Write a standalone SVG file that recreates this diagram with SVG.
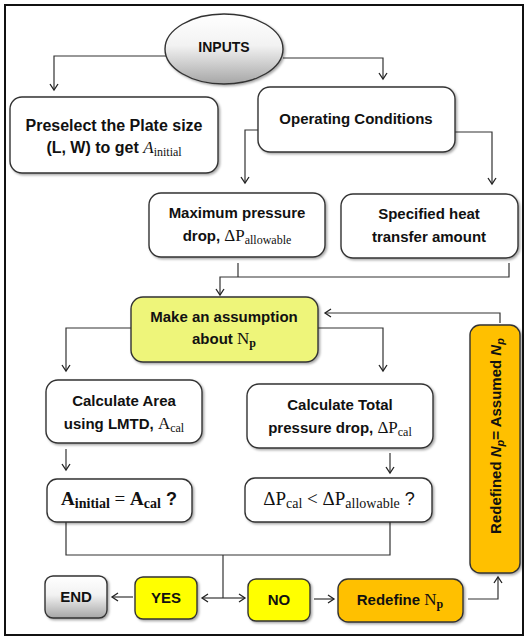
<svg xmlns="http://www.w3.org/2000/svg" width="525" height="637" viewBox="0 0 525 637">
<defs>
<linearGradient id="gGray" x1="0" y1="0" x2="0" y2="1">
<stop offset="0" stop-color="#ffffff"/>
<stop offset="0.45" stop-color="#f2f2f2"/>
<stop offset="1" stop-color="#a6a6a6"/>
</linearGradient>
<filter id="sh" x="-10%" y="-10%" width="130%" height="130%">
<feDropShadow dx="1.5" dy="1.5" stdDeviation="1.2" flood-color="#000" flood-opacity="0.35"/>
</filter>
<marker id="arr" markerWidth="10" markerHeight="10" refX="7" refY="5" orient="auto" markerUnits="userSpaceOnUse">
<path d="M1,1 L7,5 L1,9" fill="none" stroke="#222" stroke-width="1.3"/>
</marker>
<style>
.box{stroke:#333;stroke-width:1.4;filter:url(#sh)}
.w{fill:#fff}
.lime{fill:#eef57a}
.yel{fill:#ffff00}
.org{fill:#ffc000}
.c{fill:none;stroke:#333;stroke-width:1.2}
.a{marker-end:url(#arr)}
text{font-family:"Liberation Sans",Arial,sans-serif;font-weight:bold;font-size:15px;fill:#111;text-anchor:middle}
.s{font-family:"Liberation Serif","Times New Roman",serif;font-weight:normal;font-size:17px}
.sb{font-family:"Liberation Serif","Times New Roman",serif;font-weight:bold;font-size:17px}
.sub{font-family:"Liberation Serif","Times New Roman",serif;font-weight:normal;font-size:12px}
.subb{font-family:"Liberation Serif","Times New Roman",serif;font-weight:bold;font-size:12px}
.it{font-style:italic}
.big{font-size:19px}
.bsub{font-size:14px}
.q{font-size:18px}
.ps{font-size:16px}
.sm{font-size:14px}
.pi{font-size:11px}
</style>
</defs>
<rect x="5" y="5" width="518" height="630" fill="#fff" stroke="#111" stroke-width="2"/>

<g id="connectors">
<path class="c a" d="M166,56 H54 V90"/>
<path class="c a" d="M283,58 H383 V79"/>
<path class="c a" d="M258,130 H245 V183"/>
<path class="c a" d="M455,132 H492 V184"/>
<path class="c" d="M238,263 V277"/>
<path class="c a" d="M509,263 V277 H220 V295"/>
<path class="c a" d="M500,323 V313 H325"/>
<path class="c a" d="M131,328 H66 V371"/>
<path class="c a" d="M318,328 H383 V371"/>
<path class="c a" d="M66,449 V470"/>
<path class="c a" d="M390,453 V473"/>
<path class="c" d="M66,522 V555 H390 V522"/>
<path class="c" d="M223,555 V598"/>
<path class="c a" d="M223,598 H202"/>
<path class="c a" d="M223,598 H245"/>
<path class="c a" d="M133,597 H112"/>
<path class="c a" d="M314,599 H334"/>
<path class="c a" d="M468,599 H498 V577"/>
</g>

<g id="inputs">
<ellipse cx="224" cy="49" rx="59" ry="35" fill="url(#gGray)" class="box"/>
<text class="sm" x="224" y="52">INPUTS</text>
</g>

<g id="preselect">
<rect class="box w" x="10" y="97" width="208" height="76" rx="12"/>
<text class="ps" x="114" y="131">Preselect the Plate size</text>
<text class="ps" x="114" y="153">(L, W) to get <tspan class="s it">A</tspan><tspan class="sub" dy="3">initial</tspan></text>
</g>

<g id="operating">
<rect class="box w" x="258" y="87" width="197" height="65" rx="12"/>
<text x="356" y="124">Operating Conditions</text>
</g>

<g id="maxpressure">
<rect class="box w" x="149" y="193" width="176" height="64" rx="12"/>
<text x="237" y="218">Maximum pressure</text>
<text x="237" y="241">drop, <tspan class="s">ΔP</tspan><tspan class="sub" dy="3">allowable</tspan></text>
</g>

<g id="heat">
<rect class="box w" x="341" y="194" width="177" height="64" rx="12"/>
<text x="429" y="219">Specified heat</text>
<text x="429" y="242">transfer amount</text>
</g>

<g id="assumption">
<rect class="box lime" x="131" y="297" width="187" height="65" rx="12"/>
<text x="224" y="322">Make an assumption</text>
<text x="224" y="344">about <tspan class="s">N</tspan><tspan class="subb" dy="3">p</tspan></text>
</g>

<g id="calcarea">
<rect class="box w" x="46" y="380" width="156" height="63" rx="12"/>
<text x="124" y="406">Calculate Area</text>
<text x="124" y="429">using LMTD, <tspan class="s">A</tspan><tspan class="sub" dy="3">cal</tspan></text>
</g>

<g id="calctotal">
<rect class="box w" x="247" y="384" width="186" height="64" rx="12"/>
<text x="340" y="410">Calculate Total</text>
<text x="340" y="433">pressure drop, <tspan class="s">ΔP</tspan><tspan class="sub" dy="3">cal</tspan></text>
</g>

<g id="areacheck">
<rect class="box w" x="47" y="479" width="145" height="43" rx="10"/>
<text x="119" y="505"><tspan class="sb big">A</tspan><tspan class="subb bsub" dy="3">initial</tspan><tspan class="s big" dy="-3"> = </tspan><tspan class="sb big">A</tspan><tspan class="subb bsub" dy="3">cal</tspan><tspan class="q" dy="-3"> ?</tspan></text>
</g>

<g id="pressurecheck">
<rect class="box w" x="245" y="478" width="187" height="44" rx="10"/>
<text x="339" y="505"><tspan class="s big">ΔP</tspan><tspan class="sub bsub" dy="3">cal</tspan><tspan class="s big" dy="-3"> &lt; ΔP</tspan><tspan class="sub bsub" dy="3">allowable</tspan><tspan class="q" dy="-3" style="font-weight:normal"> ?</tspan></text>
</g>

<g id="end">
<rect class="box" x="45" y="576" width="62" height="42" rx="8" fill="url(#gGray)"/>
<text x="76" y="602">END</text>
</g>

<g id="yes">
<rect class="box yel" x="135" y="577" width="62" height="42" rx="8"/>
<text x="166" y="603">YES</text>
</g>

<g id="no">
<rect class="box yel" x="248" y="579" width="62" height="42" rx="8"/>
<text x="279" y="605">NO</text>
</g>

<g id="redefine">
<rect class="box org" x="338" y="579" width="125" height="43" rx="10"/>
<text x="400" y="605">Redefine <tspan class="s">N</tspan><tspan class="subb" dy="3">p</tspan></text>
</g>

<g id="redefined">
<rect class="box org" x="470" y="325" width="50" height="248" rx="10"/>
<text transform="translate(501,436) rotate(-90)">Redefined <tspan class="it">N</tspan><tspan class="it pi" dy="3">p</tspan><tspan dy="-3">= Assumed </tspan><tspan class="it">N</tspan><tspan class="it pi" dy="3">p</tspan></text>
</g>
</svg>
